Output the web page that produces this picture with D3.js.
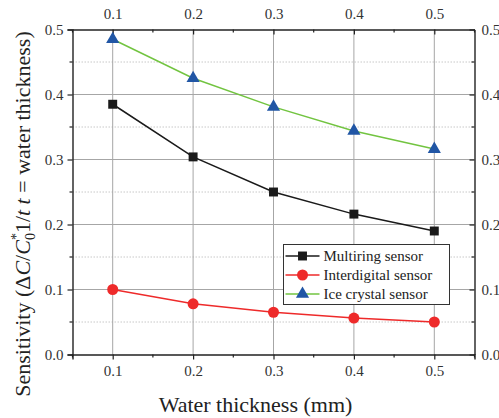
<!DOCTYPE html>
<html>
<head>
<meta charset="utf-8">
<script src="https://cdn.jsdelivr.net/npm/d3@7"></script>
<style>
  html, body { margin: 0; padding: 0; background: #fff; }
</style>
</head>
<body>
<svg id="chart" width="499" height="418"></svg>
<script>
// Water thickness (mm) on x, sensitivity on y
const thickness = [0.1, 0.2, 0.3, 0.4, 0.5];
const multiring = [0.385, 0.304, 0.250, 0.216, 0.190];
const interdigital = [0.100, 0.078, 0.065, 0.056, 0.050];
const iceCrystal = [0.485, 0.425, 0.381, 0.344, 0.316];
const seriesNames = ["Multiring sensor", "Interdigital sensor", "Ice crystal sensor"];
const xTicks = [0.1, 0.2, 0.3, 0.4, 0.5];
const yTicks = [0.0, 0.1, 0.2, 0.3, 0.4, 0.5];
const yMinor = [0.05, 0.15, 0.25, 0.35, 0.45];
const xMinor = [0.05, 0.15, 0.25, 0.35, 0.45, 0.55];

const FONT = "\"Liberation Serif\", \"Times New Roman\", Tinos";
const svg = d3.select("#chart").attr("font-family", FONT);
const plotL = 72.5, plotR = 474.5, plotT = 29.5, plotB = 354.5;

const x = d3.scaleLinear().domain([0.05, 0.55]).range([plotL, plotR]);
const y = d3.scaleLinear().domain([0, 0.5]).range([plotB, plotT]);

const series = [
  { name: seriesNames[0], values: multiring, line: "#1a1a1a", fill: "#1a1a1a", shape: d3.symbolSquare, size: 80 },
  { name: seriesNames[1], values: interdigital, line: "#ee2a2a", fill: "#ee2a2a", shape: d3.symbolCircle, size: 95 },
  { name: seriesNames[2], values: iceCrystal, line: "#72c440", fill: "#2156a5", shape: d3.symbolTriangle, size: 75 }
];

// grid: dotted minor horizontals, solid major lines
const grid = svg.append("g");
grid.selectAll(".ym").data(yMinor).join("line")
  .attr("x1", plotL).attr("x2", plotR)
  .attr("y1", d => y(d)).attr("y2", d => y(d))
  .attr("stroke", "#c8c8c8").attr("stroke-width", 1).attr("stroke-dasharray", "1.5,1.5");
grid.selectAll(".yM").data(yTicks.slice(1, 5)).join("line")
  .attr("x1", plotL).attr("x2", plotR)
  .attr("y1", d => y(d)).attr("y2", d => y(d))
  .attr("stroke", "#a6a6a6").attr("stroke-width", 1);
grid.selectAll(".xM").data(xTicks).join("line")
  .attr("x1", d => x(d)).attr("x2", d => x(d))
  .attr("y1", plotT).attr("y2", plotB)
  .attr("stroke", "#a6a6a6").attr("stroke-width", 1);

// axes
const fmt = d3.format(".1f");
function styleAxis(g) {
  g.attr("font-family", FONT).attr("font-size", 15);
  g.select(".domain").attr("stroke", "#222").attr("stroke-width", 1.4);
  g.selectAll(".tick line").attr("stroke", "#222").attr("stroke-width", 1.2);
  g.selectAll(".tick text").attr("fill", "#333");
}
const axB = svg.append("g").attr("transform", `translate(0,${plotB})`)
  .call(d3.axisBottom(x).tickValues(xTicks).tickFormat(fmt).tickSizeOuter(0).tickSize(5).tickPadding(6));
styleAxis(axB);
const axT = svg.append("g").attr("transform", `translate(0,${plotT})`)
  .call(d3.axisTop(x).tickValues(xTicks).tickFormat(fmt).tickSizeOuter(0).tickSizeInner(-5).tickPadding(11));
styleAxis(axT);
const axL = svg.append("g").attr("transform", `translate(${plotL},0)`)
  .call(d3.axisLeft(y).tickValues(yTicks).tickFormat(fmt).tickSizeOuter(0).tickSize(5).tickPadding(4));
styleAxis(axL);
const axR = svg.append("g").attr("transform", `translate(${plotR},0)`)
  .call(d3.axisRight(y).tickValues(yTicks).tickFormat(fmt).tickSizeOuter(0).tickSizeInner(-5).tickPadding(7));
styleAxis(axR);

// minor ticks
const minor = svg.append("g").attr("stroke", "#222").attr("stroke-width", 1.2);
minor.selectAll(".mb").data(xMinor).join("line")
  .attr("x1", d => x(d)).attr("x2", d => x(d)).attr("y1", plotB).attr("y2", plotB + 3);
minor.selectAll(".mt").data(xMinor).join("line")
  .attr("x1", d => x(d)).attr("x2", d => x(d)).attr("y1", plotT).attr("y2", plotT + 3);
minor.selectAll(".ml").data(yMinor).join("line")
  .attr("x1", plotL - 3).attr("x2", plotL).attr("y1", d => y(d)).attr("y2", d => y(d));
minor.selectAll(".mr").data(yMinor).join("line")
  .attr("x1", plotR - 3).attr("x2", plotR).attr("y1", d => y(d)).attr("y2", d => y(d));

// series lines and markers
const line = d3.line().x((d, i) => x(thickness[i])).y(d => y(d));
series.forEach(s => {
  svg.append("path").datum(s.values)
    .attr("d", line).attr("fill", "none")
    .attr("stroke", s.line).attr("stroke-width", 1.5);
  svg.append("g").selectAll("path").data(s.values).join("path")
    .attr("transform", (d, i) => `translate(${x(thickness[i])},${y(d)})`)
    .attr("d", d3.symbol().type(s.shape).size(s.size))
    .attr("fill", s.fill);
});

// legend
const lg = svg.append("g").attr("transform", "translate(283.5,244.5)");
lg.append("rect").attr("width", 166).attr("height", 60)
  .attr("fill", "#fff").attr("stroke", "#333").attr("stroke-width", 1);
series.forEach((s, i) => {
  const yy = 11.5 + i * 19;
  lg.append("line").attr("x1", 2).attr("x2", 36).attr("y1", yy).attr("y2", yy)
    .attr("stroke", s.line).attr("stroke-width", 1.5);
  lg.append("path").attr("transform", `translate(19,${yy})`)
    .attr("d", d3.symbol().type(s.shape).size(s.size)).attr("fill", s.fill);
  lg.append("text").attr("x", 40).attr("y", yy).attr("dy", "0.35em")
    .attr("fill", "#222").attr("font-size", 15).text(s.name);
});

// axis titles
svg.append("text").attr("x", (plotL + plotR) / 2 - 18).attr("y", 412)
  .attr("text-anchor", "middle").attr("fill", "#222").attr("font-size", 22)
  .text("Water thickness (mm)");

const yt = svg.append("text")
  .attr("transform", `translate(30,${(plotT + plotB) / 2 + 22}) rotate(-90)`)
  .attr("text-anchor", "middle").attr("fill", "#222").attr("font-size", 22);
yt.append("tspan").text("Sensitivity (\u0394");
yt.append("tspan").attr("font-style", "italic").text("C");
yt.append("tspan").text("/");
yt.append("tspan").attr("font-style", "italic").text("C");
yt.append("tspan").attr("dy", 5).attr("font-size", 14).text("0");
yt.append("tspan").attr("dy", -14).attr("dx", -7).attr("font-size", 14).text("*");
yt.append("tspan").attr("dy", 9).text("1/");
yt.append("tspan").attr("font-style", "italic").text("t");
yt.append("tspan").text(" ");
yt.append("tspan").attr("font-style", "italic").text("t");
yt.append("tspan").text(" = water thickness)");
</script>
</body>
</html>
